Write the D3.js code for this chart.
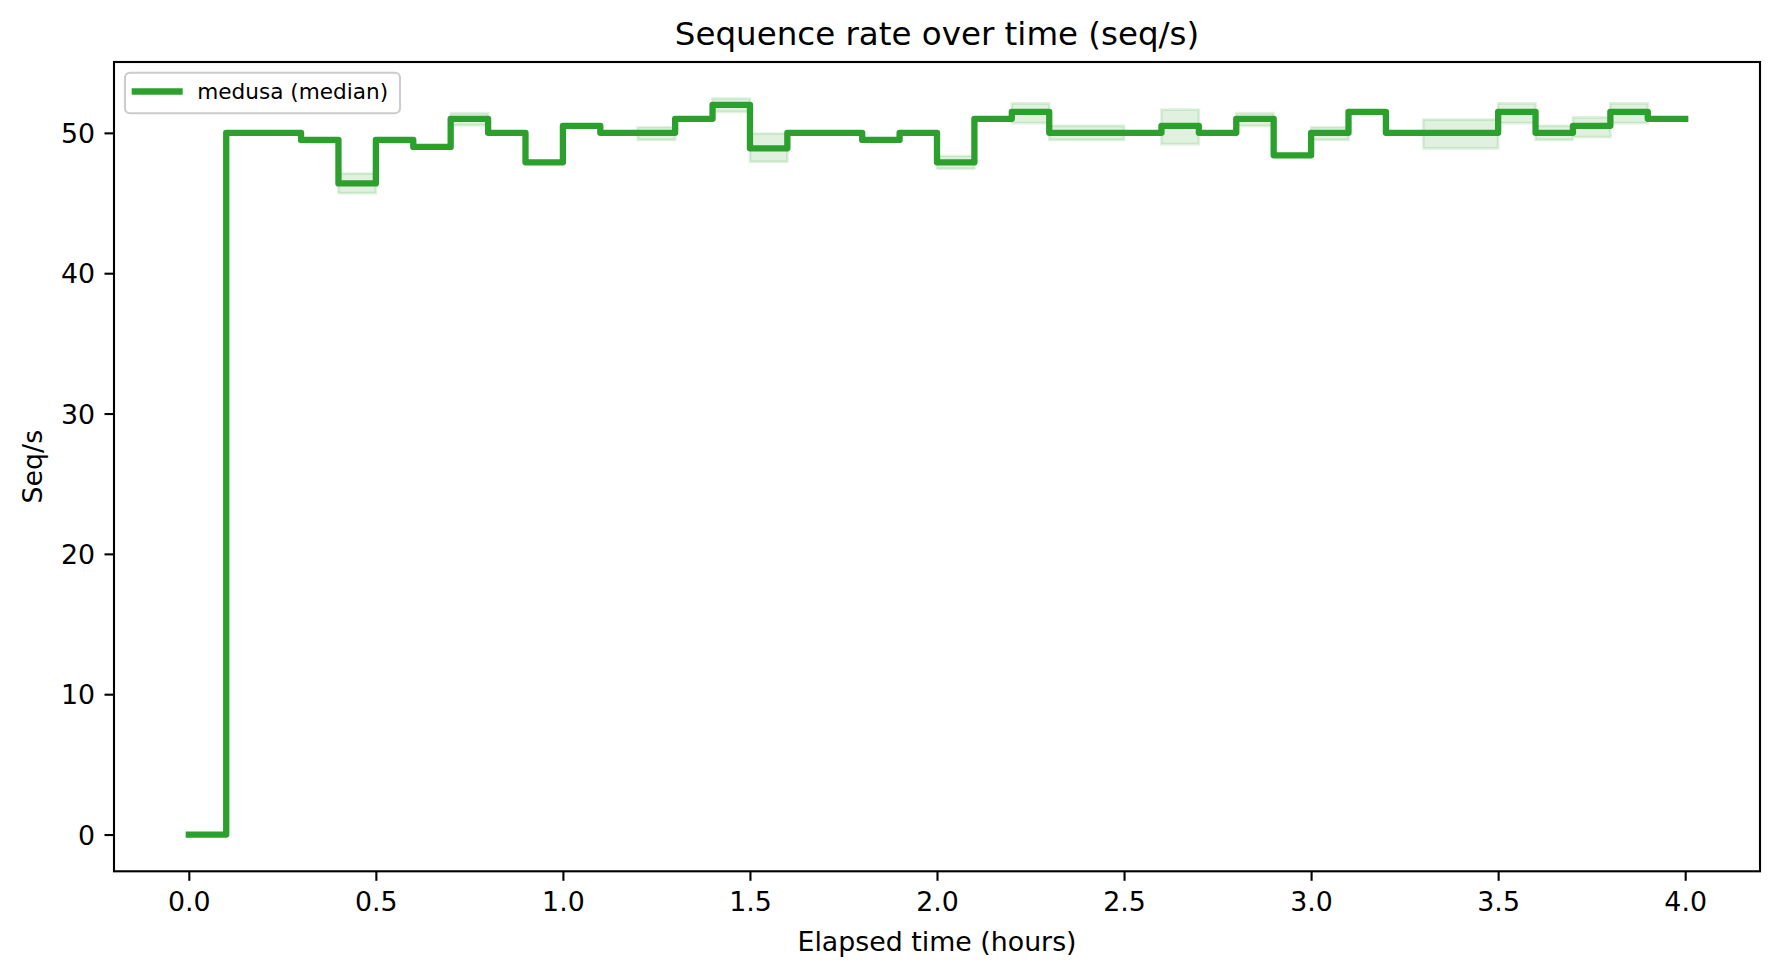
<!DOCTYPE html>
<html>
<head>
  <meta charset="utf-8">
  <title>Sequence rate over time</title>
  <style type="text/css">
    body {
      margin: 0;
      background-color: #fff;
    }
    svg {
      display: block;
      font-family: "DejaVu Sans", sans-serif;
    }
    .axis text {
      font-size: 26.8px;
      fill: #000;
    }
    .axis line {
      stroke: #000;
      stroke-width: 2.1;
    }
  </style>
  <script src="https://d3js.org/d3.v7.min.js"></script>
</head>
<body>

<script>
// elapsed hours, one bin every 0.1 h (step "post")
var hours = [0.0, 0.1, 0.2, 0.3, 0.4, 0.5, 0.6, 0.7, 0.8, 0.9,
             1.0, 1.1, 1.2, 1.3, 1.4, 1.5, 1.6, 1.7, 1.8, 1.9,
             2.0, 2.1, 2.2, 2.3, 2.4, 2.5, 2.6, 2.7, 2.8, 2.9,
             3.0, 3.1, 3.2, 3.3, 3.4, 3.5, 3.6, 3.7, 3.8, 3.9, 4.0];

var medianRate = [0, 50, 50, 49.5, 46.4, 49.5, 49, 51, 50, 47.9,
                  50.5, 50, 50, 51, 52, 48.9, 50, 50, 49.5, 50,
                  47.9, 51, 51.5, 50, 50, 50, 50.5, 50, 51, 48.4,
                  50, 51.5, 50, 50, 50, 51.5, 50, 50.5, 51.5, 51, 51];

var lowerRate = [0, 50, 50, 49.3, 45.7, 49.3, 49, 50.55, 50, 47.9,
                 50.5, 50, 49.5, 51, 51.5, 47.95, 50, 50, 49.5, 50,
                 47.45, 51, 50.7, 49.5, 49.5, 50, 49.2, 50, 50.5, 48.4,
                 49.5, 51.5, 50, 48.9, 48.9, 50.7, 49.5, 49.7, 50.7, 51, 51];

var upperRate = [0, 50, 50, 49.5, 47.1, 49.5, 49, 51.4, 50, 47.9,
                 50.5, 50, 50.4, 51, 52.45, 49.95, 50, 50, 49.5, 50,
                 48.35, 51, 52.1, 50.5, 50.5, 50, 51.65, 50, 51.4, 48.4,
                 50.4, 51.5, 50, 50.95, 50.95, 52.1, 50.5, 51.1, 52.1, 51, 51];

var xTicks = [0, 0.5, 1, 1.5, 2, 2.5, 3, 3.5, 4];
var yTicks = [0, 10, 20, 30, 40, 50];

var width = 1780, height = 978;
var plotLeft = 114, plotRight = 1760, plotTop = 62, plotBottom = 871.3;
var green = "#2ca02c";

var svg = d3.select("body").append("svg")
  .attr("width", width)
  .attr("height", height);

var x = d3.scaleLinear().domain([-0.2, 4.2]).range([plotLeft, plotRight]);
var y = d3.scaleLinear().domain([-2.62, 55.05]).range([plotBottom, plotTop]);

var rows = hours.map(function(h, i) {
  return {h: h, med: medianRate[i], lo: lowerRate[i], hi: upperRate[i]};
});

// spread band
var band = d3.area()
  .curve(d3.curveStepAfter)
  .x(function(d) { return x(d.h); })
  .y0(function(d) { return y(d.lo); })
  .y1(function(d) { return y(d.hi); });

svg.append("path")
  .datum(rows)
  .attr("d", band)
  .attr("fill", green)
  .attr("fill-opacity", 0.15)
  .attr("stroke", green)
  .attr("stroke-opacity", 0.15)
  .attr("stroke-width", 2.7);

// median line
var line = d3.line()
  .curve(d3.curveStepAfter)
  .x(function(d) { return x(d.h); })
  .y(function(d) { return y(d.med); });

svg.append("path")
  .datum(rows)
  .attr("d", line)
  .attr("fill", "none")
  .attr("stroke", green)
  .attr("stroke-width", 6.3)
  .attr("stroke-linejoin", "round")
  .attr("stroke-linecap", "square");

// axes
var xaxis = d3.axisBottom(x)
  .tickValues(xTicks)
  .tickFormat(d3.format(".1f"))
  .tickSize(9.5)
  .tickSizeOuter(0)
  .tickPadding(11);

svg.append("g")
  .attr("class", "axis")
  .attr("transform", "translate(0," + plotBottom + ")")
  .call(xaxis)
  .call(function(g) { g.select(".domain").remove(); })
  .selectAll("text")
  .attr("font-family", "DejaVu Sans");

var yaxis = d3.axisLeft(y)
  .tickValues(yTicks)
  .tickFormat(d3.format("d"))
  .tickSize(9.5)
  .tickSizeOuter(0)
  .tickPadding(9.5);

svg.append("g")
  .attr("class", "axis")
  .attr("transform", "translate(" + plotLeft + ",0)")
  .call(yaxis)
  .call(function(g) { g.select(".domain").remove(); })
  .selectAll("text")
  .attr("dy", "0.36em")
  .attr("font-family", "DejaVu Sans");

// frame
svg.append("rect")
  .attr("x", plotLeft)
  .attr("y", plotTop)
  .attr("width", plotRight - plotLeft)
  .attr("height", plotBottom - plotTop)
  .attr("fill", "none")
  .attr("stroke", "#000")
  .attr("stroke-width", 2.1);

// title and labels
svg.append("text")
  .attr("x", (plotLeft + plotRight) / 2)
  .attr("y", 45)
  .attr("text-anchor", "middle")
  .attr("font-size", "32.5px")
  .text("Sequence rate over time (seq/s)");

svg.append("text")
  .attr("x", (plotLeft + plotRight) / 2)
  .attr("y", 951)
  .attr("text-anchor", "middle")
  .attr("font-size", "26.8px")
  .text("Elapsed time (hours)");

svg.append("text")
  .attr("transform", "translate(42," + ((plotTop + plotBottom) / 2) + ") rotate(-90)")
  .attr("text-anchor", "middle")
  .attr("font-size", "26.8px")
  .text("Seq/s");

// legend
var legend = svg.append("g");

legend.append("rect")
  .attr("x", 125)
  .attr("y", 72.7)
  .attr("width", 275)
  .attr("height", 40.6)
  .attr("rx", 5)
  .attr("fill", "#fff")
  .attr("fill-opacity", 0.8)
  .attr("stroke", "#cccccc")
  .attr("stroke-width", 2.1);

legend.append("line")
  .attr("x1", 131.7)
  .attr("x2", 182.7)
  .attr("y1", 91.5)
  .attr("y2", 91.5)
  .attr("stroke", green)
  .attr("stroke-width", 6.3);

legend.append("text")
  .attr("x", 197.3)
  .attr("y", 99.3)
  .attr("font-size", "21.6px")
  .text("medusa (median)");
</script>

</body>
</html>
